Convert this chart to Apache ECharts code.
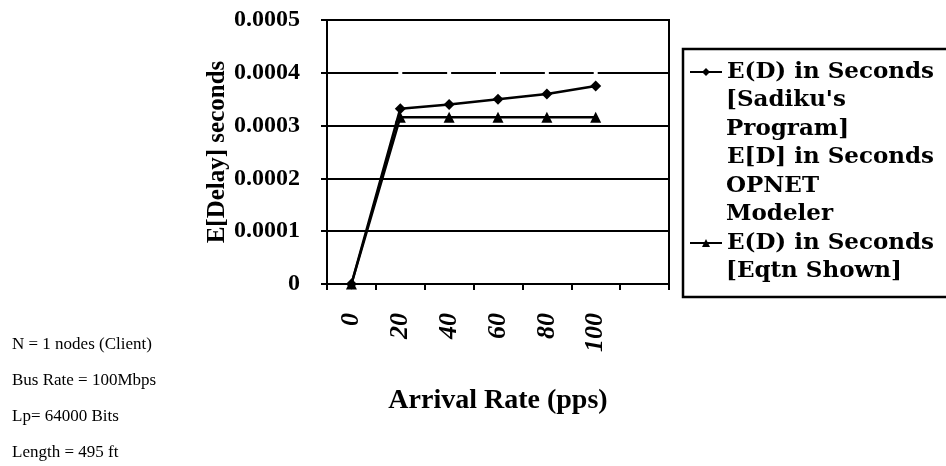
<!DOCTYPE html>
<html>
<head>
<meta charset="utf-8">
<script src="https://cdn.jsdelivr.net/npm/echarts@6/dist/echarts.min.js"></script>
<style>
html,body{margin:0;padding:0;background:#fff;}
#chart{width:946px;height:466px;}
</style>
</head>
<body>
<div id="chart"></div>
<script>
const categories = ['0', '20', '40', '60', '80', '100', ''];
const sadikuValues = [0, 0.000332, 0.00034, 0.00035, 0.00036, 0.000375];
const opnetValues = [0, 0.0004, 0.0004, 0.0004, 0.0004, 0.0004];
const eqnValues = [0, 0.000316, 0.000316, 0.000316, 0.000316, 0.000316];
const yTicks = [0, 0.0001, 0.0002, 0.0003, 0.0004, 0.0005];
const seriesNames = ["E(D) in Seconds [Sadiku's Program]", 'E[D] in Seconds OPNET Modeler', 'E(D) in Seconds [Eqtn Shown]'];
const legendLines = [
  ["E(D) in Seconds", "[Sadiku's", "Program]"],
  ["E[D] in Seconds", "OPNET", "Modeler"],
  ["E(D) in Seconds", "[Eqtn Shown]"]
];
const noteLines = ['N = 1 nodes (Client)', 'Bus Rate = 100Mbps', 'Lp= 64000 Bits', 'Length = 495 ft'];

const FONT = 'Liberation Serif';
const LFONT = 'DejaVu Serif';
const chart = echarts.init(document.getElementById('chart'), null, {renderer: 'canvas'});

const firstCenter = 72;
const lineStep = 28.5;
const legends = [];
const graphics = [];
let lineIdx = 0;
legendLines.forEach((lines, i) => {
  const c = firstCenter + lineIdx * lineStep;
  legends.push({
    data: [seriesNames[i]],
    left: 689,
    top: c - 14,
    itemWidth: 32,
    itemHeight: 10,
    padding: 0,
    selectedMode: false,
    formatter: () => lines[0],
    textStyle: {fontFamily: LFONT, fontWeight: 'bold', fontSize: 23, lineHeight: 28, color: '#000'}
  });
  for (let k = 1; k < lines.length; k++) {
    graphics.push({
      type: 'text', x: 726, y: c + k * lineStep,
      style: {text: lines[k], font: 'bold 23px "' + LFONT + '"', fill: '#000', verticalAlign: 'middle', align: 'left'}
    });
  }
  lineIdx += lines.length;
});
graphics.push({
  type: 'rect', shape: {x: 683, y: 49, width: 280, height: 248},
  style: {fill: null, stroke: '#000', lineWidth: 2.5}, z: 10
});
noteLines.forEach((t, i) => {
  graphics.push({
    type: 'text', x: 12, y: 345 + i * 36,
    style: {text: t, font: '17px "' + FONT + '"', fill: '#000', verticalAlign: 'middle', align: 'left'}
  });
});

const option = {
  backgroundColor: '#fff',
  animation: false,
  grid: {left: 327, top: 20, right: 277, bottom: 182, show: true, borderColor: '#000', borderWidth: 2, backgroundColor: 'transparent'},
  legend: legends,
  graphic: graphics,
  xAxis: {
    type: 'category',
    data: categories,
    boundaryGap: true,
    name: 'Arrival Rate (pps)',
    nameLocation: 'middle',
    nameGap: 103,
    nameTextStyle: {fontFamily: FONT, fontWeight: 'bold', fontSize: 28, color: '#000'},
    axisLine: {lineStyle: {color: '#000', width: 2}},
    axisTick: {show: true, length: 6, lineStyle: {color: '#000', width: 2}, alignWithLabel: false},
    axisLabel: {rotate: 90, margin: 29, interval: 0, fontFamily: FONT, fontWeight: 'bold', fontStyle: 'italic', fontSize: 26, color: '#000'},
    splitLine: {show: false}
  },
  yAxis: {
    type: 'value',
    min: yTicks[0],
    max: yTicks[yTicks.length - 1],
    interval: yTicks[1] - yTicks[0],
    name: 'E[Delay] seconds',
    nameLocation: 'middle',
    nameGap: 84,
    nameTextStyle: {fontFamily: FONT, fontWeight: 'bold', fontSize: 25, color: '#000'},
    axisLine: {show: true, lineStyle: {color: '#000', width: 2}},
    axisTick: {show: true, length: 6, lineStyle: {color: '#000', width: 2}},
    axisLabel: {margin: 27, fontFamily: FONT, fontWeight: 'bold', fontSize: 24, color: '#000',
      formatter: v => v === 0 ? '0' : v.toFixed(4)},
    splitLine: {show: true, lineStyle: {color: '#000', width: 2}}
  },
  series: [
    {
      name: seriesNames[0], type: 'line', data: sadikuValues, z: 3,
      symbol: 'diamond', symbolSize: 11,
      lineStyle: {color: '#000', width: 2.5},
      itemStyle: {color: '#000'}
    },
    {
      name: seriesNames[1], type: 'line', data: opnetValues, z: 1,
      symbol: 'rect', symbolSize: 4,
      lineStyle: {color: '#d8d8d8', width: 1, type: 'dotted', opacity: 0},
      itemStyle: {color: '#fff'}
    },
    {
      name: seriesNames[2], type: 'line', data: eqnValues, z: 3,
      symbol: 'triangle', symbolSize: 11,
      lineStyle: {color: '#000', width: 2.5},
      itemStyle: {color: '#000'}
    }
  ]
};
chart.setOption(option);
</script>
</body>
</html>
